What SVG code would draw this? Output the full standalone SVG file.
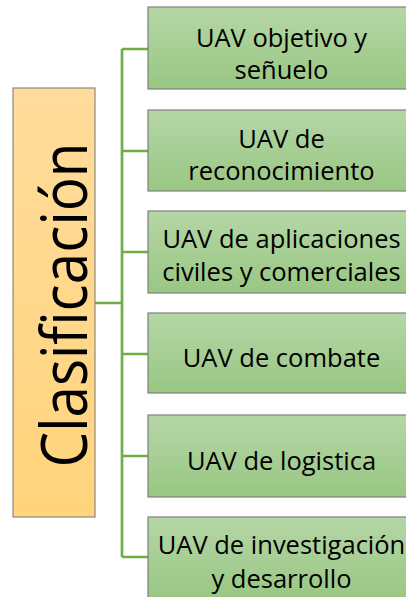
<svg xmlns="http://www.w3.org/2000/svg" width="406" height="597" viewBox="0 0 406 597">
<defs>
<linearGradient id="gg" x1="0" y1="0" x2="0" y2="1">
<stop offset="0" stop-color="#b5d6a6"/>
<stop offset="1" stop-color="#99c783"/>
</linearGradient>
<linearGradient id="og" x1="0" y1="0" x2="0" y2="1">
<stop offset="0" stop-color="#ffdc9c"/>
<stop offset="1" stop-color="#ffd47c"/>
</linearGradient>
<style>
.box{fill:url(#gg);stroke:#7f7f7f;stroke-width:1.2}
.root{fill:url(#og);stroke:#8a8a80;stroke-width:1.2}
.t{font-family:"Open Sans","Noto Sans",sans-serif;font-size:25.5px;fill:#000;text-anchor:middle}
.big{font-family:"Open Sans","Noto Sans",sans-serif;font-size:64px;fill:#000;text-anchor:middle}
.c{fill:none;stroke:#70ad47;stroke-width:2.7}
</style>
</defs>
<g id="connectors">
<path class="c" d="M95,303 H122 M122,49 V557 M122,49 H148 M122,151 H148 M122,252 H148 M122,354 H148 M122,456 H148 M122,557 H148"/>
</g>
<g id="root">
<rect class="root" x="13" y="88" width="82" height="429"/>
<text class="big" transform="translate(87,305) rotate(-90)" x="0" y="0" textLength="325" lengthAdjust="spacingAndGlyphs">Clasificación</text>
</g>
<g id="n1">
<rect class="box" x="148" y="7" width="267" height="82"/>
<text class="t" x="281.5" y="47">UAV objetivo y</text>
<text class="t" x="281.5" y="79">señuelo</text>
</g>
<g id="n2">
<rect class="box" x="148" y="110" width="267" height="81"/>
<text class="t" x="281.5" y="148">UAV de</text>
<text class="t" x="281.5" y="180">reconocimiento</text>
</g>
<g id="n3">
<rect class="box" x="148" y="211" width="267" height="82"/>
<text class="t" x="281.5" y="248">UAV de aplicaciones</text>
<text class="t" x="281.5" y="281">civiles y comerciales</text>
</g>
<g id="n4">
<rect class="box" x="148" y="313" width="267" height="80"/>
<text class="t" x="281.5" y="367">UAV de combate</text>
</g>
<g id="n5">
<rect class="box" x="148" y="415" width="267" height="82"/>
<text class="t" x="281.5" y="470">UAV de logistica</text>
</g>
<g id="n6">
<rect class="box" x="148" y="517" width="267" height="82"/>
<text class="t" x="281.5" y="554">UAV de investigación</text>
<text class="t" x="281.5" y="588">y desarrollo</text>
</g>
</svg>
